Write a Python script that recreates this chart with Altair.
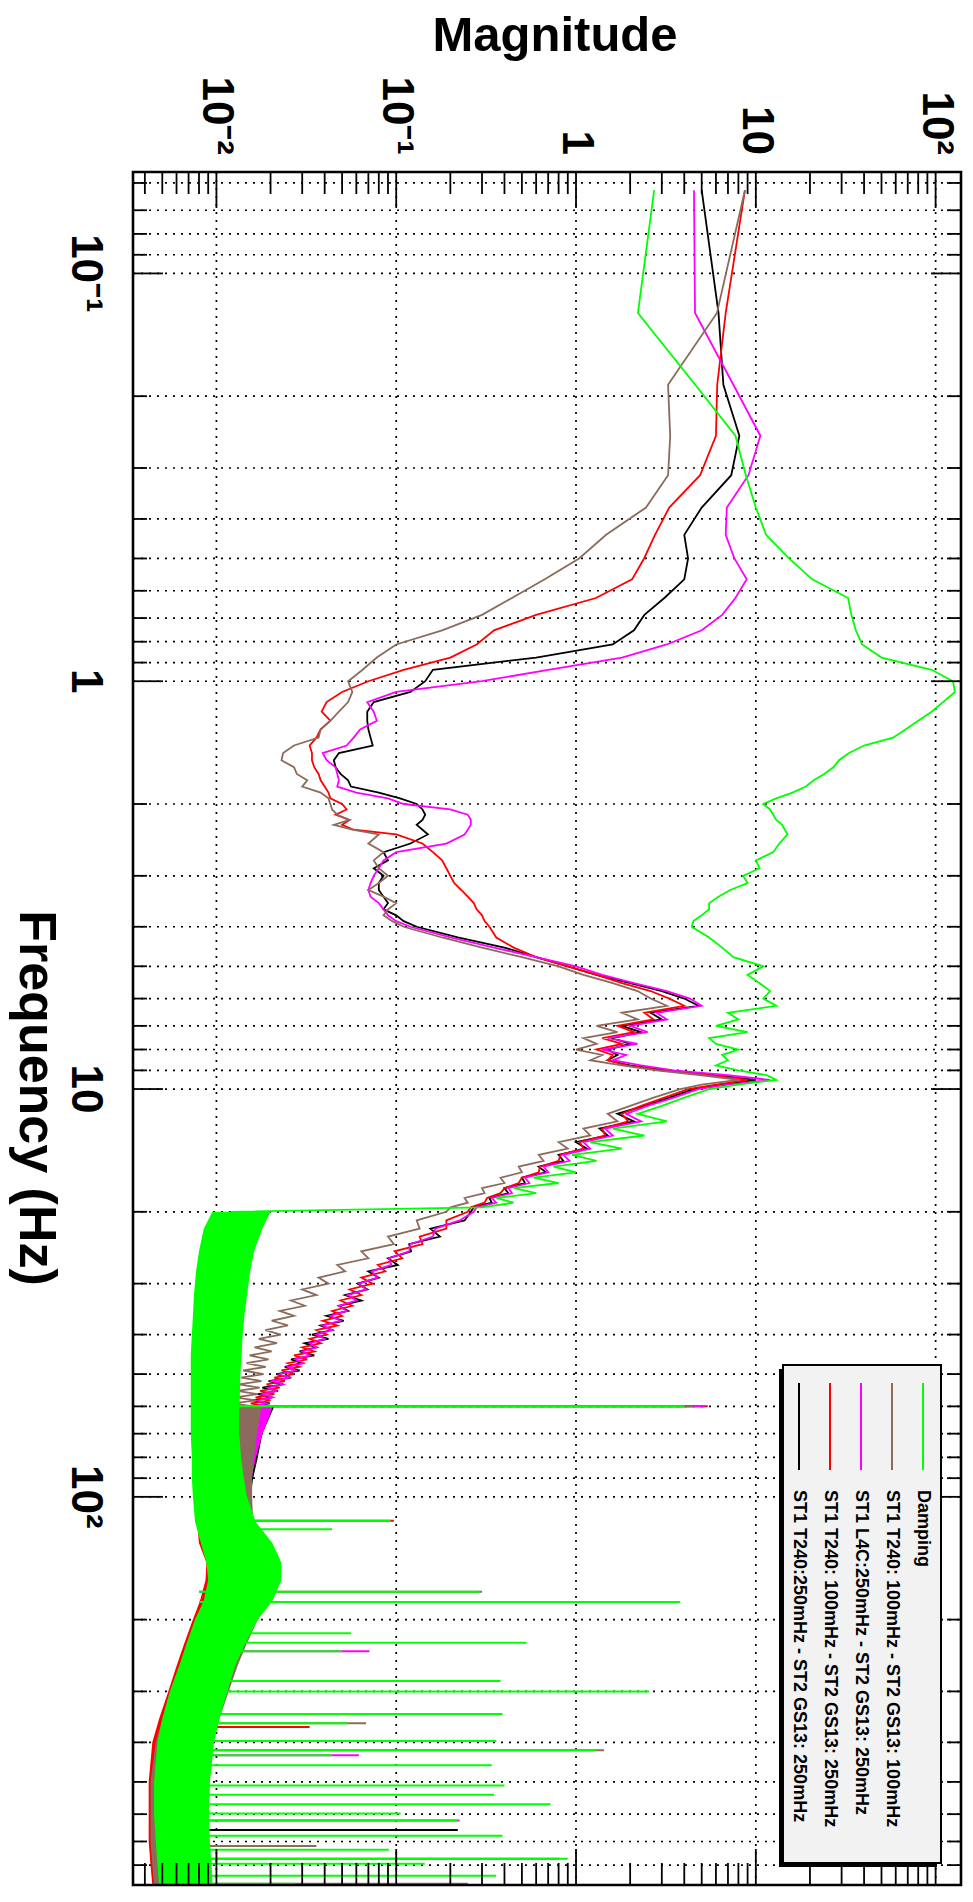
import altair as alt
import pandas as pd

# ---------------- data ----------------
SERIES = ["black", "red", "magenta", "brown", "green"]
LEGEND_LABELS = [
    "ST1 T240:250mHz - ST2 GS13: 250mHz",
    "ST1 T240: 100mHz - ST2 GS13: 250mHz",
    "ST1 L4C:250mHz - ST2 GS13: 250mHz",
    "ST1 T240: 100mHz - ST2 GS13: 100mHz",
    "Damping",
]
COLORS = ["#000000", "#ff0000", "#ff00ff", "#8b6b5b", "#00ff00"]

# individual curves, Hz (up to 20 Hz for all, up to 60 Hz for the four transfer curves)
LOW_FREQ = [0.0625, 0.125, 0.1875, 0.25, 0.3125, 0.375, 0.4375, 0.5, 0.5625, 0.625,
            0.6875, 0.75, 0.8125, 0.875, 0.9375, 1.0,
            1.0625, 1.125, 1.1875, 1.25, 1.3125, 1.375, 1.4375, 1.5, 1.5625, 1.625,
            1.6875, 1.75, 1.8125, 1.875, 1.9375, 2.0,
            2.0625, 2.125, 2.1875, 2.25, 2.3125, 2.375,
            2.5, 2.625, 2.75, 2.875, 3.0, 3.125, 3.25, 3.375, 3.5, 3.625, 3.75, 3.875, 4.0,
            4.25, 4.5, 4.75, 5.0, 5.25, 5.5, 5.75, 6.0, 6.25, 6.5, 6.75, 7.0, 7.25, 7.5,
            7.75, 8.0, 8.25, 8.5, 8.75, 9.0, 9.25, 9.5, 9.75, 10.0, 10.5, 11.0,
            11.5, 12.0, 12.5, 13.0, 13.5, 14.0, 14.5, 15.0, 15.5, 16.0, 16.5, 17.0,
            17.5, 18.0, 18.5, 19.0, 19.5, 20.0]
MID_FREQ = [21, 22, 23, 24, 25, 26, 27, 28, 29, 30, 31, 32, 33, 34, 35, 36, 37, 38, 39, 40,
            41, 42, 43, 44, 45, 46, 47, 48, 49, 50, 51, 52, 53, 54, 55, 56, 57, 58, 59, 60]

LOW_BLACK = [5.0, 6.2, 6.6, 8.1, 7.3, 5.0, 4.0, 4.2, 4.0, 3.1,
             2.4, 2.1, 1.6, 0.6, 0.16, 0.145,
             0.12, 0.075, 0.069, 0.069, 0.07, 0.072, 0.074, 0.048, 0.045, 0.046,
             0.049, 0.054, 0.056, 0.08, 0.105, 0.13,
             0.14, 0.145, 0.14, 0.13, 0.14, 0.15,
             0.12, 0.085, 0.09, 0.075, 0.085, 0.08, 0.08, 0.085, 0.09, 0.085, 0.1, 0.11, 0.13,
             0.22, 0.4, 0.6, 0.9, 1.3, 2.0, 3.0, 4.0, 4.8, 2.6, 3.0, 1.8, 2.3, 1.6,
             2.0, 1.5, 1.7, 1.5, 2.0, 3.2, 6.0, 10.0, 6.5, 4.5, 3.3, 2.4,
             1.7, 2.1, 1.35, 1.5, 1.0, 1.15, 0.8, 0.85, 0.62, 0.68, 0.5, 0.52,
             0.4, 0.42, 0.33, 0.34, 0.27, 0.26]
MID_BLACK = [0.24, 0.155, 0.175, 0.118, 0.121, 0.09, 0.102, 0.07, 0.08, 0.061, 0.069, 0.052,
             0.064, 0.048, 0.054, 0.041, 0.051, 0.038, 0.044, 0.034, 0.042, 0.031, 0.036,
             0.029, 0.035, 0.026, 0.03, 0.024, 0.029, 0.0215, 0.026, 0.0195, 0.0235, 0.018,
             0.022, 0.017, 0.0205, 0.016, 0.0198, 0.0152]

LOW_RED = [8.7, 6.8, 6.1, 6.0, 4.9, 3.3, 2.75, 2.39, 2.05, 1.29,
           0.6, 0.35, 0.28, 0.2, 0.11, 0.07,
           0.05, 0.041, 0.0385, 0.043, 0.038, 0.036, 0.033, 0.034, 0.034, 0.035,
           0.037, 0.038, 0.040, 0.042, 0.043, 0.05,
           0.053, 0.046, 0.055, 0.05, 0.058, 0.1,
           0.14, 0.16, 0.18, 0.19, 0.2, 0.21, 0.23, 0.25, 0.27, 0.28, 0.3, 0.31, 0.33,
           0.36, 0.45, 0.6, 0.9, 1.3, 1.8, 2.6, 3.3, 4.0, 2.4, 2.7, 1.7, 2.1, 1.4,
           1.8, 1.3, 1.6, 1.5, 1.9, 3.0, 5.5, 9.0, 6.0, 4.2, 3.1, 2.3,
           1.8, 1.95, 1.4, 1.45, 1.05, 1.1, 0.82, 0.8, 0.63, 0.62, 0.5, 0.48,
           0.4, 0.38, 0.32, 0.31, 0.26, 0.25]
MID_RED = [0.19, 0.19, 0.135, 0.14, 0.098, 0.108, 0.079, 0.087, 0.064, 0.074, 0.055, 0.064,
           0.049, 0.057, 0.044, 0.05, 0.039, 0.047, 0.036, 0.041, 0.033, 0.038, 0.03, 0.035,
           0.027, 0.032, 0.025, 0.029, 0.023, 0.027, 0.021, 0.024, 0.019, 0.0225, 0.0175,
           0.021, 0.0165, 0.02, 0.0155, 0.019]

LOW_MAGENTA = [4.53, 4.59, 7.5, 10.6, 9.1, 6.9, 6.8, 7.6, 8.9, 7.7,
               6.5, 5.0, 3.2, 1.8, 0.7, 0.3,
               0.1, 0.069, 0.075, 0.078, 0.063, 0.058, 0.053, 0.039, 0.041, 0.046,
               0.047, 0.048, 0.047, 0.06, 0.09, 0.11,
               0.2, 0.25, 0.26, 0.26, 0.25, 0.24,
               0.19, 0.1, 0.085, 0.08, 0.075, 0.072, 0.07, 0.072, 0.08, 0.085, 0.09, 0.1, 0.12,
               0.2, 0.35, 0.6, 1.0, 1.4, 2.1, 3.2, 4.3, 5.0, 2.8, 3.2, 2.0, 2.5, 1.5,
               2.2, 1.4, 1.9, 1.6, 2.3, 3.5, 7.0, 12.0, 7.0, 4.8, 3.5, 2.5,
               1.9, 2.3, 1.45, 1.6, 1.1, 1.2, 0.85, 0.92, 0.66, 0.7, 0.52, 0.55,
               0.42, 0.44, 0.34, 0.36, 0.28, 0.27]
MID_MAGENTA = [0.225, 0.165, 0.16, 0.12, 0.118, 0.091, 0.094, 0.073, 0.079, 0.062, 0.068,
               0.054, 0.06, 0.048, 0.053, 0.043, 0.049, 0.039, 0.044, 0.036, 0.04, 0.033,
               0.036, 0.03, 0.033, 0.0275, 0.0305, 0.025, 0.0275, 0.0225, 0.0255, 0.0205,
               0.0235, 0.0193, 0.0215, 0.018, 0.0205, 0.017, 0.019, 0.0162]

LOW_BROWN = [8.7, 6.08, 3.25, 3.34, 3.25, 2.45, 1.47, 1.04, 0.67, 0.44,
             0.3, 0.18, 0.1, 0.078, 0.065, 0.054,
             0.057, 0.054, 0.048, 0.043, 0.038, 0.037, 0.027, 0.0235, 0.023, 0.027,
             0.028, 0.032, 0.03, 0.038, 0.042, 0.043,
             0.044, 0.047, 0.055, 0.045, 0.057, 0.08,
             0.07, 0.085, 0.075, 0.08, 0.09, 0.08, 0.07, 0.085, 0.1, 0.09, 0.085, 0.095, 0.11,
             0.18, 0.3, 0.5, 0.8, 1.1, 1.6, 2.2, 2.6, 3.2, 1.8, 2.2, 1.3, 1.7, 1.1,
             1.3, 1.0, 1.4, 1.2, 1.8, 2.8, 5.0, 8.0, 5.0, 3.8, 2.7, 2.0,
             1.5, 1.7, 1.1, 1.2, 0.8, 0.9, 0.62, 0.66, 0.48, 0.5, 0.38, 0.4,
             0.3, 0.31, 0.24, 0.25, 0.2, 0.19]
MID_BROWN = [0.13, 0.135, 0.09, 0.097, 0.064, 0.07, 0.047, 0.052, 0.037, 0.042, 0.03, 0.036,
             0.026, 0.031, 0.0225, 0.027, 0.0203, 0.025, 0.0187, 0.0228, 0.0172, 0.0217,
             0.0163, 0.0203, 0.0153, 0.0195, 0.0147, 0.0188, 0.0141, 0.0183, 0.0137, 0.0178,
             0.0133, 0.0174, 0.013, 0.017, 0.0127, 0.0166, 0.0123, 0.016]

LOW_GREEN = [2.72, 2.21, 4.6, 7.7, 8.8, 10.0, 11.4, 15.3, 20.6, 32.6,
             34.0, 36.0, 39.0, 50.0, 95.0, 125.0,
             128.0, 110.0, 95.0, 80.0, 68.0, 58.0, 40.0, 33.0, 29.0, 27.0,
             24.0, 21.0, 19.0, 16.0, 13.0, 11.0,
             12.0, 12.5, 13.0, 14.0, 14.5, 15.0,
             13.5, 12.5, 10.0, 10.5, 8.5, 9.0, 7.2, 6.2, 5.5, 5.5, 5.0, 4.5, 4.4,
             5.5, 6.5, 7.5, 11.0, 9.0, 10.5, 12.0, 11.0, 13.0, 7.0, 8.0, 6.0, 9.0, 5.5,
             6.0, 8.0, 6.5, 7.0, 6.0, 8.0, 11.5, 13.0, 8.0, 5.5, 4.0, 3.0,
             2.2, 3.2, 1.6, 2.4, 1.2, 1.8, 0.95, 1.3, 0.75, 1.0, 0.58, 0.8,
             0.45, 0.6, 0.36, 0.45, 0.3, 0.012]

# dense noisy part above 60 Hz (above 20 Hz for Damping): envelope low / high
BAND_FREQ = [60, 63, 70, 80, 90, 100, 115, 130, 145, 160, 180, 200, 230, 260, 300, 350,
             400, 500, 600, 700, 800, 895]
BAND_BLACK_LO = [0.013, 0.0125, 0.011, 0.0095, 0.0088, 0.0084, 0.008, 0.0082, 0.009, 0.0089,
                 0.0083, 0.0076, 0.0068, 0.0062, 0.0055, 0.005, 0.0046, 0.0044, 0.0043,
                 0.0044, 0.0044, 0.0045]
BAND_BLACK_HI = [0.021, 0.02, 0.018, 0.017, 0.016, 0.0155, 0.0155, 0.0165, 0.019, 0.0185,
                 0.017, 0.0156, 0.014, 0.0128, 0.0115, 0.0103, 0.0094, 0.009, 0.009, 0.0091,
                 0.0092, 0.0093]
BAND_RED_LO = [0.0125, 0.012, 0.0105, 0.0092, 0.0086, 0.0082, 0.0078, 0.008, 0.0088, 0.0087,
               0.0081, 0.0074, 0.0066, 0.006, 0.0054, 0.0048, 0.0044, 0.0042, 0.0042, 0.0042,
               0.0043, 0.0044]
BAND_RED_HI = [0.0205, 0.0198, 0.018, 0.0165, 0.0156, 0.0152, 0.0152, 0.0162, 0.0187, 0.0182,
               0.0168, 0.0154, 0.0138, 0.0126, 0.0114, 0.0101, 0.0093, 0.0089, 0.0089, 0.009,
               0.0091, 0.0092]
BAND_MAGENTA_LO = [0.0135, 0.0128, 0.0112, 0.0098, 0.0091, 0.0087, 0.0083, 0.0085, 0.0092,
                   0.0091, 0.0085, 0.0078, 0.007, 0.0064, 0.0057, 0.0051, 0.0047, 0.0045,
                   0.0044, 0.0045, 0.0045, 0.0046]
BAND_MAGENTA_HI = [0.0205, 0.0198, 0.018, 0.0166, 0.0157, 0.0152, 0.015, 0.016, 0.0185,
                   0.0182, 0.0167, 0.0153, 0.0137, 0.0125, 0.0112, 0.01, 0.0092, 0.0088,
                   0.0088, 0.0089, 0.009, 0.0091]
BAND_BROWN_LO = [0.011, 0.0106, 0.0098, 0.0092, 0.0088, 0.0085, 0.0082, 0.0085, 0.0093,
                 0.0093, 0.0087, 0.0079, 0.007, 0.0063, 0.0056, 0.005, 0.0046, 0.0043,
                 0.0043, 0.0043, 0.0044, 0.0045]
BAND_BROWN_HI = [0.018, 0.0175, 0.0168, 0.0162, 0.0158, 0.0158, 0.016, 0.0176, 0.0212,
                 0.0222, 0.0198, 0.017, 0.0147, 0.0131, 0.0117, 0.0104, 0.0095, 0.009,
                 0.0089, 0.009, 0.0092, 0.0093]

GREEN_BAND_FREQ = [20, 22, 25, 28, 32, 36, 40, 45, 50, 56, 63, 70,
                   80, 90, 100, 115, 130, 145, 160, 180, 200, 230, 260, 300, 350, 400, 500,
                   600, 700, 800, 895]
BAND_GREEN_LO = [0.0095, 0.0085, 0.008, 0.0077, 0.0075, 0.0074, 0.0073, 0.0072, 0.0072,
                 0.0072, 0.0072, 0.0072, 0.0073, 0.0073, 0.0074, 0.0076, 0.0082, 0.0088,
                 0.009, 0.0085, 0.0076, 0.0068, 0.0062, 0.0055, 0.005, 0.0047, 0.0045,
                 0.0045, 0.0046, 0.0047, 0.0048]
BAND_GREEN_HI = [0.02, 0.018, 0.0162, 0.0154, 0.0148, 0.0143, 0.014, 0.0138, 0.0136, 0.0135,
                 0.0134, 0.0134, 0.0137, 0.0142, 0.0148, 0.0165, 0.0205, 0.023, 0.023,
                 0.0205, 0.017, 0.0144, 0.0127, 0.0115, 0.0104, 0.0097, 0.0092, 0.0091,
                 0.0092, 0.0094, 0.0095]

# narrow spectral lines (spikes): frequency, tip magnitude, series
SPIKE_BASE = 0.008
SPIKE_FREQ = [60, 60, 60, 114.5, 171, 239, 359, 367, 418, 430, 622, 656, 718, 772, 889,
              60, 114.5, 120, 171, 181, 216, 228, 239, 283, 300, 341, 359, 397, 418, 430,
              455, 510, 538, 567, 598, 622, 678, 733, 772, 794, 849, 889]
SPIKE_TIP = [5.4, 5.2, 4.5, 0.097, 0.30, 0.071, 0.068, 0.033, 1.43, 0.062, 0.225, 0.22, 0.036,
             0.81, 0.25,
             4.0, 0.093, 0.044, 0.29, 3.8, 0.056, 0.53, 0.05, 0.38, 2.55, 0.39, 0.054, 0.36,
             1.29, 0.044, 0.34, 0.40, 0.35, 0.72, 0.106, 0.22, 0.39, 0.091, 0.9, 0.144,
             0.36, 0.027]
SPIKE_SERIES = ["red", "magenta", "brown", "red", "brown", "magenta", "brown", "red", "brown",
                "magenta", "magenta", "black", "brown", "brown", "brown"] + ["green"] * 27

# axis ticks and labels
FREQ_TICKS = [0.06, 0.07, 0.08, 0.09, 0.1, 0.2, 0.3, 0.4, 0.5, 0.6, 0.7, 0.8, 0.9,
              1, 2, 3, 4, 5, 6, 7, 8, 9, 10, 20, 30, 40, 50, 60, 70, 80, 90,
              100, 200, 300, 400, 500, 600, 700, 800]
FREQ_MAJOR = [0.1, 1, 10, 100]
FREQ_LABELS = ["10\u207b\u00b9", "1", "10", "10\u00b2"]
MAG_TICKS = [0.004, 0.005, 0.006, 0.007, 0.008, 0.009,
             0.02, 0.03, 0.04, 0.05, 0.06, 0.07, 0.08, 0.09,
             0.2, 0.3, 0.4, 0.5, 0.6, 0.7, 0.8, 0.9,
             2, 3, 4, 5, 6, 7, 8, 9, 20, 30, 40, 50, 60, 70, 80, 90]
MAG_MAJOR = [0.01, 0.1, 1, 10, 100]
MAG_LABELS = ["10\u207b\u00b2", "10\u207b\u00b9", "1", "10", "10\u00b2"]
X_TITLE = "Magnitude"
Y_TITLE = "Frequency (Hz)"

# ---------------- chart ----------------
W, H = 828, 1713
FONT = "Liberation Sans, Arial, Helvetica, sans-serif"
xs = alt.Scale(type="log", domain=[0.003436, 138.4], nice=False)
ys = alt.Scale(type="log", domain=[0.0564, 895], nice=False, reverse=True)

curves = {
    "black": (LOW_FREQ + MID_FREQ, LOW_BLACK + MID_BLACK),
    "red": (LOW_FREQ + MID_FREQ, LOW_RED + MID_RED),
    "magenta": (LOW_FREQ + MID_FREQ, LOW_MAGENTA + MID_MAGENTA),
    "brown": (LOW_FREQ + MID_FREQ, LOW_BROWN + MID_BROWN),
    "green": (LOW_FREQ, LOW_GREEN),
}
bands = {
    "black": (BAND_FREQ, BAND_BLACK_LO, BAND_BLACK_HI),
    "red": (BAND_FREQ, BAND_RED_LO, BAND_RED_HI),
    "magenta": (BAND_FREQ, BAND_MAGENTA_LO, BAND_MAGENTA_HI),
    "brown": (BAND_FREQ, BAND_BROWN_LO, BAND_BROWN_HI),
    "green": (GREEN_BAND_FREQ, BAND_GREEN_LO, BAND_GREEN_HI),
}
spikes = pd.DataFrame({"f": SPIKE_FREQ, "tip": SPIKE_TIP, "s": SPIKE_SERIES})
spikes["base"] = SPIKE_BASE

dot = dict(color="black", strokeWidth=1.7, strokeDash=[2, 6])
layers = []
layers.append(alt.Chart(pd.DataFrame({"f": FREQ_TICKS})).mark_rule(**dot).encode(
    y=alt.Y("f:Q", scale=ys, axis=None), x=alt.value(0), x2=alt.value(W)))
layers.append(alt.Chart(pd.DataFrame({"m": MAG_MAJOR})).mark_rule(**dot).encode(
    x=alt.X("m:Q", scale=xs, axis=None), y=alt.value(0), y2=alt.value(H)))

for s, col in zip(SERIES, COLORS):
    ldf = pd.DataFrame({"f": curves[s][0], "m": curves[s][1]})
    bdf = pd.DataFrame({"f": bands[s][0], "lo": bands[s][1], "hi": bands[s][2]})
    layers.append(alt.Chart(ldf).mark_line(color=col, strokeWidth=1.8, clip=True).encode(
        x=alt.X("m:Q", scale=xs, axis=None), y=alt.Y("f:Q", scale=ys, axis=None),
        order=alt.Order("f:Q")))
    layers.append(alt.Chart(bdf).mark_area(color=col, orient="horizontal", clip=True,
                                           opacity=1).encode(
        y=alt.Y("f:Q", scale=ys, axis=None), x=alt.X("lo:Q", scale=xs, axis=None),
        x2="hi:Q"))
    sdf = spikes[spikes["s"] == s]
    if len(sdf):
        layers.append(alt.Chart(sdf).mark_rule(color=col, strokeWidth=2, clip=True).encode(
            y=alt.Y("f:Q", scale=ys, axis=None), x=alt.X("base:Q", scale=xs, axis=None),
            x2="tip:Q"))

tick = dict(color="black", strokeWidth=1.8)
minor_m = pd.DataFrame({"m": MAG_TICKS})
major_m = pd.DataFrame({"m": MAG_MAJOR})
minor_f = pd.DataFrame({"f": [v for v in FREQ_TICKS if v not in FREQ_MAJOR]})
major_f = pd.DataFrame({"f": FREQ_MAJOR})
for dfm, ln in ((minor_m, 22), (major_m, 36)):
    layers.append(alt.Chart(dfm).mark_rule(**tick).encode(
        x=alt.X("m:Q", scale=xs, axis=None), y=alt.value(0), y2=alt.value(ln)))
    layers.append(alt.Chart(dfm).mark_rule(**tick).encode(
        x=alt.X("m:Q", scale=xs, axis=None), y=alt.value(H), y2=alt.value(H - ln)))
for dff, ln in ((minor_f, 14), (major_f, 30)):
    layers.append(alt.Chart(dff).mark_rule(**tick).encode(
        y=alt.Y("f:Q", scale=ys, axis=None), x=alt.value(0), x2=alt.value(ln)))
    layers.append(alt.Chart(dff).mark_rule(**tick).encode(
        y=alt.Y("f:Q", scale=ys, axis=None), x=alt.value(W), x2=alt.value(W - ln)))

one = pd.DataFrame({"a": [0]})
layers.append(alt.Chart(one).mark_rect(fill=None, stroke="black", strokeWidth=2.6).encode(
    x=alt.value(0), x2=alt.value(W), y=alt.value(0), y2=alt.value(H)))

# tick labels and titles (rotated like the reference)
lab = dict(font=FONT, fontSize=44, fontWeight="bold", color="black", angle=90)
layers.append(alt.Chart(pd.DataFrame({"m": MAG_MAJOR, "t": MAG_LABELS})).mark_text(
    align="right", baseline="middle", **lab).encode(
    x=alt.X("m:Q", scale=xs, axis=None), y=alt.value(-17), text="t:N"))
layers.append(alt.Chart(pd.DataFrame({"f": FREQ_MAJOR, "t": FREQ_LABELS})).mark_text(
    align="center", baseline="top", **lab).encode(
    y=alt.Y("f:Q", scale=ys, axis=None), x=alt.value(-26), text="t:N"))
layers.append(alt.Chart(one).mark_text(
    align="center", baseline="alphabetic", font=FONT, fontSize=49, fontWeight="bold",
    color="black").encode(x=alt.value(422), y=alt.value(-121), text=alt.value(X_TITLE)))
layers.append(alt.Chart(one).mark_text(
    align="center", baseline="alphabetic", font=FONT, fontSize=52, fontWeight="bold",
    color="black", angle=90).encode(x=alt.value(-113), y=alt.value(926),
                                    text=alt.value(Y_TITLE)))

# legend (drawn rotated, like the reference)
LX0, LX1, LY0, LY1 = 650, 808, 1193, 1691
layers.append(alt.Chart(one).mark_rect(fill="black").encode(
    x=alt.value(LX0 - 4), x2=alt.value(LX1 - 4), y=alt.value(LY0 + 4), y2=alt.value(LY1 + 4)))
layers.append(alt.Chart(one).mark_rect(fill="#f2f2f2", stroke="black", strokeWidth=2).encode(
    x=alt.value(LX0), x2=alt.value(LX1), y=alt.value(LY0), y2=alt.value(LY1)))
ENTRY_X = [666, 697, 728, 759, 790]
for txt, col, ex in zip(LEGEND_LABELS, COLORS, ENTRY_X):
    layers.append(alt.Chart(one).mark_rule(color=col, strokeWidth=2).encode(
        x=alt.value(ex), y=alt.value(1211), y2=alt.value(1298)))
    layers.append(alt.Chart(one).mark_text(angle=90, align="left", baseline="middle",
                                           font=FONT, fontSize=18, fontWeight="bold",
                                           color="black").encode(
        x=alt.value(ex), y=alt.value(1318), text=alt.value(txt)))

chart = alt.layer(*layers).properties(
    width=W, height=H,
    autosize=alt.AutoSizeParams(type="none"),
    padding={"left": 125, "top": 164, "right": 4, "bottom": 2},
).configure_view(stroke=None)

chart.save("out.html", embed_options={"renderer": "svg", "actions": False})
